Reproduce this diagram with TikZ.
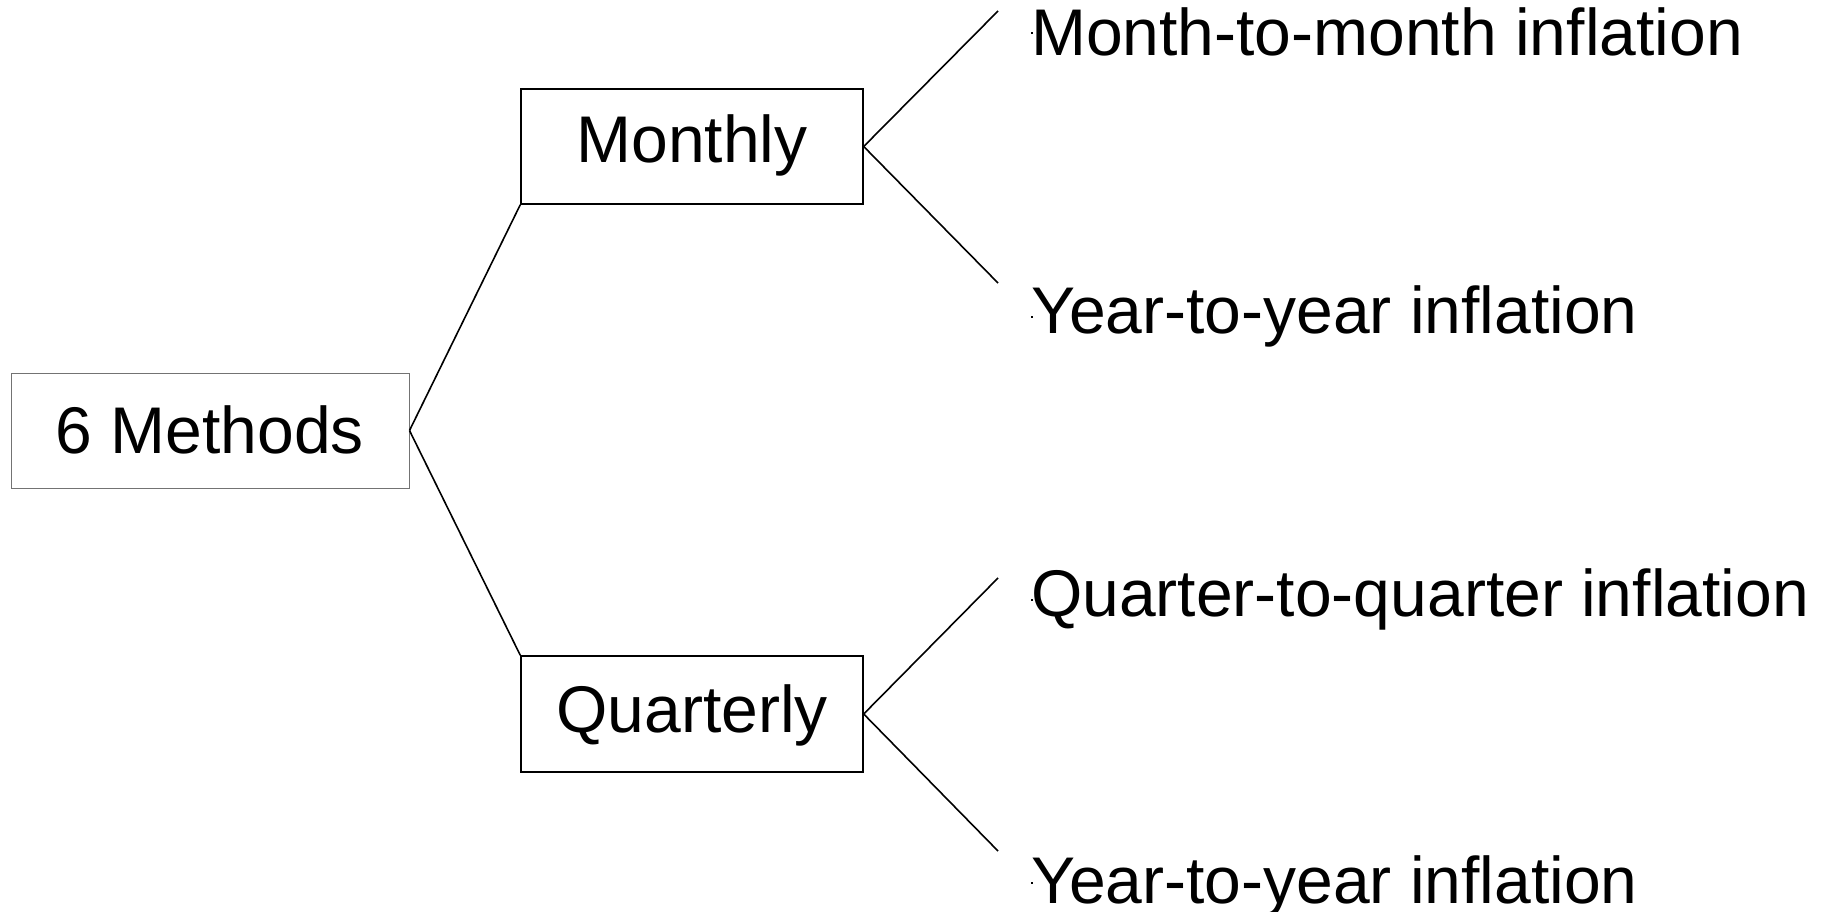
\documentclass[tikz,border=0pt]{standalone}
\usepackage{fontspec}
\setmainfont{Liberation Sans}
\begin{document}
\begin{tikzpicture}[x=1pt,y=-1pt,
  box/.style={draw=black,line width=1.4pt,inner sep=0pt,minimum width=342pt,minimum height=115pt,
    font=\fontsize{66}{79}\selectfont,text height=47pt},
  rootbox/.style={box,draw=black!55,line width=1pt,minimum width=398pt},
  leaf/.style={inner sep=0pt,anchor=base west,font=\fontsize{66}{79}\selectfont},
  conn/.style={line width=1.6pt},
  tick/.style={fill=black}]
\useasboundingbox (0,0) rectangle (1832,912);
\node[rootbox,text depth=2pt] (root) at (210,430.5) {6 Methods};
\node[box,text depth=14pt] (mon) at (692,146.5) {Monthly};
\node[box,text depth=11pt,minimum height=116pt] (qua) at (692,714) {Quarterly};
\node[leaf] (l1) at (1031,56) {Month-to-month inflation};
\node[leaf] (l2) at (1031,333) {Year-to-year inflation};
\node[leaf] (l3) at (1031,616) {Quarter-to-quarter inflation};
\node[leaf] (l4) at (1031,903) {Year-to-year inflation};
\coordinate (c1) at (998,11);
\coordinate (c2) at (998,283);
\coordinate (c3) at (998,578);
\coordinate (c4) at (998,851);
\draw[conn] (root.east) -- (mon.south west);
\draw[conn] (root.east) -- (qua.north west);
\draw[conn] (mon.east) -- (c1);
\draw[conn] (mon.east) -- (c2);
\draw[conn] (qua.east) -- (c3);
\draw[conn] (qua.east) -- (c4);
\fill[tick] (1031,32) rectangle (1033,34);
\fill[tick] (1031,316) rectangle (1033,318);
\fill[tick] (1031,599) rectangle (1033,601);
\fill[tick] (1031,882) rectangle (1033,884);
\end{tikzpicture}
\end{document}
